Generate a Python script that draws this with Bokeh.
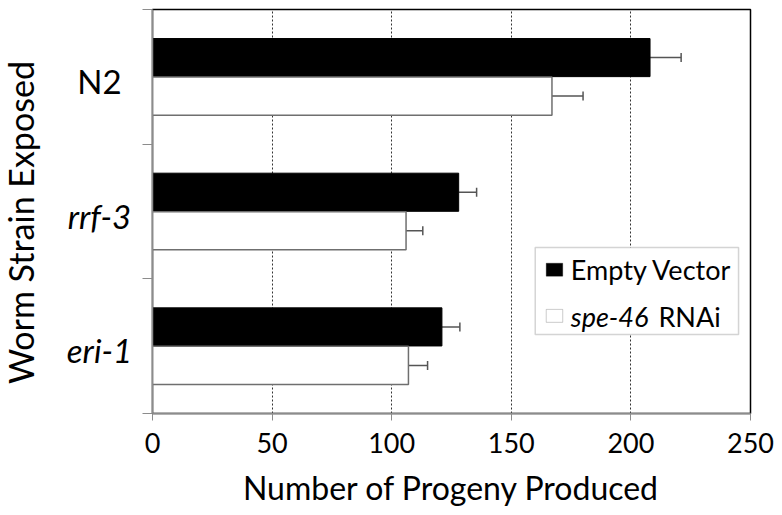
from bokeh.plotting import figure
from bokeh.layouts import row
from bokeh.models import (ColumnDataSource, FixedTicker, Range1d, Whisker, TeeHead,
                          Label, BoxAnnotation)
from bokeh.core.properties import value
from bokeh.embed import file_html
from bokeh.resources import INLINE
import math

# ---- data ----
strains = ["N2", "rrf-3", "eri-1"]
strain_style = ["normal", "italic", "italic"]
empty_vector = [208, 128, 121]
empty_vector_err = [13, 7.5, 7.5]
spe46_rnai = [167, 106, 107]
spe46_rnai_err = [13, 7, 8]
x_ticks = [0, 50, 100, 150, 200, 250]
y_title = "Worm Strain Exposed"
x_title = "Number of Progeny Produced"

FONT = "Lato"
n = len(strains)
centers = [n - i - 0.5 for i in range(n)]
off = 0.143
hgt = 0.283

ev = ColumnDataSource(dict(
    y=[c + off for c in centers], v=empty_vector,
    up=[a + b for a, b in zip(empty_vector, empty_vector_err)]))
sp = ColumnDataSource(dict(
    y=[c - off for c in centers], v=spe46_rnai,
    up=[a + b for a, b in zip(spe46_rnai, spe46_rnai_err)]))

yr = Range1d(0, n)

# ---- main plot ----
p = figure(width=640, height=515, output_backend="svg", toolbar_location=None,
           x_range=Range1d(0, 250), y_range=yr)
p.min_border_left = 10
p.min_border_right = 32
p.min_border_top = 9
p.min_border_bottom = 102
p.outline_line_color = "black"
p.outline_line_width = 1.5
p.background_fill_color = "white"

p.hbar(y="y", left=0, right="v", height=hgt, source=ev,
       fill_color="black", line_color="black", line_width=1)
p.hbar(y="y", left=0, right="v", height=hgt, source=sp,
       fill_color="white", line_color="#6f6f6f", line_width=1.5)

for src in (ev, sp):
    w = Whisker(source=src, base="y", lower="v", upper="up", dimension="width",
                line_color="#555555", line_width=1.5, lower_head=None,
                upper_head=TeeHead(size=9, line_color="#555555", line_width=1.5))
    p.add_layout(w)

p.ygrid.grid_line_color = None
p.xgrid.ticker = FixedTicker(ticks=x_ticks[1:-1])
p.xgrid.grid_line_color = "#333333"
p.xgrid.grid_line_dash = "2 2"
p.xgrid.grid_line_width = 1

xa = p.xaxis[0]
xa.ticker = FixedTicker(ticks=x_ticks)
xa.axis_line_color = "#8c8c8c"
xa.axis_line_width = 1.5
xa.major_tick_line_color = "#8c8c8c"
xa.major_tick_out = 7
xa.major_tick_in = 0
xa.minor_tick_line_color = None
xa.major_label_text_font = FONT
xa.major_label_text_font_size = "27px"
xa.major_label_text_color = "black"
xa.major_label_standoff = 12
xa.axis_label = x_title
xa.axis_label_text_font = FONT
xa.axis_label_text_font_size = "32px"
xa.axis_label_text_font_style = "normal"
xa.axis_label_text_color = "black"
xa.axis_label_standoff = 12

ya = p.yaxis[0]
ya.ticker = FixedTicker(ticks=list(range(n + 1)))
ya.major_label_overrides = {i: "" for i in range(n + 1)}
ya.major_label_text_font_size = "0px"
ya.major_label_standoff = 0
ya.axis_line_color = "#8c8c8c"
ya.axis_line_width = 1.5
ya.major_tick_line_color = "#8c8c8c"
ya.major_tick_out = 10
ya.major_tick_in = 0
ya.minor_tick_line_color = None

# legend (drawn by hand so that "spe-46" can be italic)
p.add_layout(BoxAnnotation(left=160, right=245, bottom=0.587, top=1.233,
                           fill_color="white", fill_alpha=1,
                           line_color="#6f6f6f", line_width=1.5, level="overlay"))
p.add_layout(BoxAnnotation(left=164.6, right=171.5, bottom=1.02, top=1.116,
                           fill_color="black", fill_alpha=1,
                           line_color="black", line_width=1, level="overlay"))
p.add_layout(BoxAnnotation(left=164.6, right=171.5, bottom=0.677, top=0.773,
                           fill_color="white", fill_alpha=1,
                           line_color="#555555", line_width=1, level="overlay"))
p.add_layout(Label(x=174.9, y=1.07, text="Empty Vector", text_baseline="middle",
                   text_font=FONT, text_font_size="27px", text_color="black",
                   level="overlay"))
p.add_layout(Label(x=174.9, y=0.721, text="spe-46", text_baseline="middle",
                   text_font=FONT, text_font_size="27px", text_font_style="italic",
                   text_color="black", level="overlay"))
p.add_layout(Label(x=211.5, y=0.721, text="RNAi", text_baseline="middle",
                   text_font=FONT, text_font_size="27px", text_color="black",
                   level="overlay"))

# ---- left panel: category names and the vertical axis title ----
lp = figure(width=142, height=515, output_backend="svg", toolbar_location=None,
            x_range=Range1d(0, 142), y_range=yr,
            x_axis_location=None, y_axis_location=None)
lp.min_border_left = 0
lp.min_border_right = 0
lp.min_border_top = 9
lp.min_border_bottom = 102
lp.outline_line_color = None
lp.grid.grid_line_color = None

lab = ColumnDataSource(dict(x=[99] * n, y=[c - 0.03 for c in centers],
                            t=strains, s=strain_style))
lp.text(x="x", y="y", text="t", source=lab, text_font=value(FONT),
        text_font_size="33px", text_font_style="s", text_align="center",
        text_baseline="middle", text_color="black")
lp.text(x=[20], y=[1.418], text=[y_title], angle=math.pi / 2,
        text_font=value(FONT), text_font_size="34px", text_align="center",
        text_baseline="middle", text_color="black")

layout = row(lp, p)
open("out.html", "w").write(file_html(layout, INLINE))
